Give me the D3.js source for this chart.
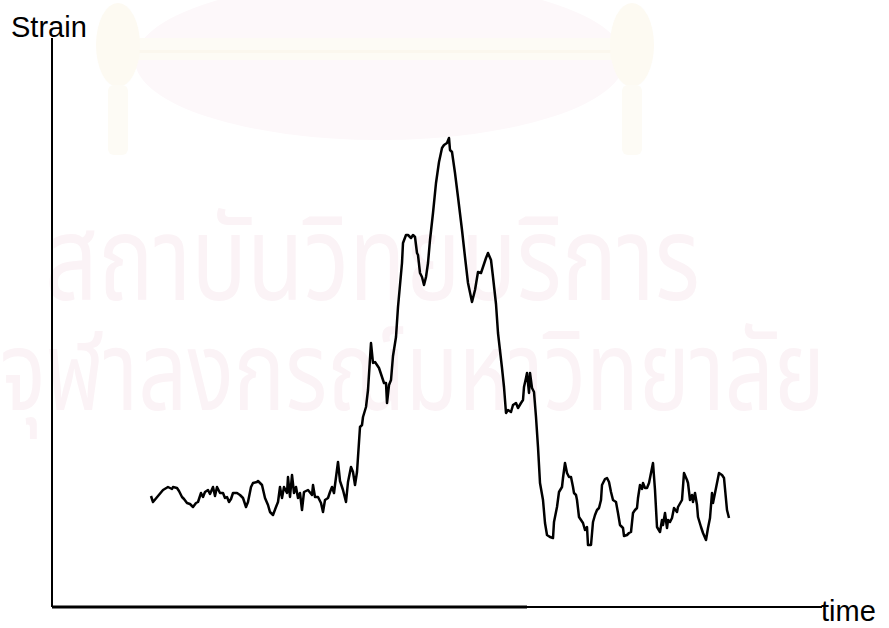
<!DOCTYPE html>
<html>
<head>
<meta charset="utf-8">
<script src="https://cdn.jsdelivr.net/npm/d3@7"></script>
<style>
  html, body { margin: 0; padding: 0; background: #ffffff; }
  svg { display: block; }
</style>
</head>
<body>
<div id="chart"></div>
<script>
// ---- data ----
const axisLabels = { y: "Strain", x: "time" };
const watermarkLines = ["สถาบันวิทยบริการ", "จุฬาลงกรณ์มหาวิทยาลัย"];

const timeDomain = [0, 77];
const strainDomain = [0, 569];

const time = [
  9.9,10.1,11.1,11.6,12.0,12.1,12.5,12.7,13.0,13.2,13.5,13.8,14.1,14.4,14.6,14.9,15.1,15.3,15.6,15.8,
  16.1,16.3,16.5,16.8,17.1,17.3,17.5,17.7,17.9,18.1,18.5,18.8,19.1,19.4,19.6,19.9,20.1,20.5,20.6,21.0,
  21.3,21.6,21.8,22.1,22.4,22.6,22.8,23.0,23.2,23.5,23.6,23.8,24.0,24.2,24.4,24.6,24.8,25.0,25.2,25.6,
  26.0,26.1,26.3,26.6,26.9,27.1,27.3,27.6,27.8,28.0,28.2,28.3,28.6,28.8,29.1,29.4,29.6,29.9,30.1,30.3,
  30.5,30.8,31.0,31.1,31.4,31.6,31.9,32.1,32.3,32.7,33.0,33.2,33.4,33.5,33.7,33.9,34.1,34.4,34.6,35.0,
  35.1,35.4,35.6,35.9,36.1,36.3,36.5,36.6,36.8,37.0,37.2,37.4,37.6,37.8,38.1,38.4,38.7,39.0,39.2,39.5,
  39.7,39.8,40.0,40.3,40.6,41.0,41.3,41.6,42.0,42.3,42.6,42.9,43.1,43.4,43.6,43.9,44.1,44.4,44.6,45.0,
  45.2,45.4,45.6,45.9,46.1,46.4,46.6,46.9,47.1,47.2,47.4,47.5,47.7,47.8,48.0,48.2,48.4,48.6,48.8,49.1,
  49.3,49.5,49.8,50.1,50.2,50.5,50.7,51.0,51.1,51.3,51.5,51.7,51.9,52.1,52.2,52.4,52.5,52.7,53.1,53.3,
  53.5,53.6,53.9,54.1,54.3,54.5,54.7,54.9,55.0,55.3,55.5,55.7,55.9,56.1,56.4,56.6,56.8,57.1,57.2,57.5,
  57.7,57.9,58.1,58.3,58.5,58.6,58.8,59.0,59.1,59.3,59.5,59.7,59.9,60.1,60.3,60.5,60.8,61.0,61.1,61.3,
  61.5,61.6,61.8,62.0,62.2,62.5,62.6,63.0,63.2,63.5,63.6,63.8,64.0,64.1,64.3,64.5,64.6,64.9,65.1,65.4,
  65.6,65.8,66.0,66.1,66.3,66.5,66.7,67.0,67.2,67.5,67.7
];

const strain = [
  111,105,117,120,118,120,119,116,110,108,104,103,100,104,105,114,110,115,117,113,
  120,111,120,114,114,109,110,105,108,114,114,112,109,100,105,120,124,125,126,122,
  109,102,95,92,100,105,120,109,120,114,130,110,132,114,120,109,114,97,115,117,
  112,122,110,110,104,95,107,109,115,120,114,122,145,126,117,105,125,140,135,122,
  135,180,182,190,200,217,264,244,245,239,230,224,224,204,222,227,251,270,300,344,
  364,372,372,369,372,370,354,352,334,330,322,330,344,367,394,424,445,459,462,464,
  469,457,455,434,410,377,350,324,305,317,335,334,340,349,354,347,330,303,274,239,
  220,194,197,195,202,204,199,204,207,220,229,234,214,234,219,215,190,160,124,107,
  84,72,70,69,85,100,115,120,129,144,134,130,130,120,114,112,107,90,84,77,
  80,62,62,85,92,97,99,107,122,128,129,125,115,107,105,94,82,79,71,72,
  74,75,94,97,99,109,122,118,124,119,119,124,134,144,117,80,75,87,82,94,
  79,87,85,89,99,95,100,107,134,127,124,107,112,105,114,102,90,80,74,67,
  79,89,114,104,114,124,134,132,129,97,89
];

// ---- layout ----
const W = 889, H = 628;
const svg = d3.select("#chart").append("svg")
  .attr("width", W).attr("height", H)
  .attr("viewBox", `0 0 ${W} ${H}`);

const x = d3.scaleLinear().domain(timeDomain).range([52, 822]);
const y = d3.scaleLinear().domain(strainDomain).range([607, 38]);

// ---- faint background watermark ----
const wm = svg.append("g").attr("class", "watermark");
wm.append("ellipse").attr("cx", 380).attr("cy", 60).attr("rx", 245).attr("ry", 80)
  .attr("fill", "#fdf8fa");
wm.append("rect").attr("x", 112).attr("y", 38).attr("width", 536).attr("height", 22)
  .attr("fill", "#fdfbf5");
wm.append("rect").attr("x", 125).attr("y", 50).attr("width", 510).attr("height", 3)
  .attr("fill", "#fbf7ee");
[118, 632].forEach(cx => {
  wm.append("ellipse").attr("cx", cx).attr("cy", 45).attr("rx", 22).attr("ry", 42)
    .attr("fill", "#fdfaf2");
  wm.append("rect").attr("x", cx - 10).attr("y", 85).attr("width", 20).attr("height", 70)
    .attr("rx", 6).attr("fill", "#fdfbf5");
});
wm.append("text").attr("x", 45).attr("y", 300)
  .attr("textLength", 655).attr("lengthAdjust", "spacingAndGlyphs")
  .attr("font-family", "'Noto Sans Thai', 'Loma', 'Garuda', 'Noto Sans', sans-serif")
  .attr("font-size", 118).attr("fill", "#fbf3f6")
  .text(watermarkLines[0]);
wm.append("text").attr("x", 0).attr("y", 410)
  .attr("textLength", 825).attr("lengthAdjust", "spacingAndGlyphs")
  .attr("font-family", "'Noto Sans Thai', 'Loma', 'Garuda', 'Noto Sans', sans-serif")
  .attr("font-size", 110).attr("fill", "#fbf3f6")
  .text(watermarkLines[1]);

// ---- axes ----
svg.append("line")
  .attr("x1", x(timeDomain[0])).attr("x2", x(timeDomain[0]))
  .attr("y1", y(strainDomain[0])).attr("y2", y(strainDomain[1]))
  .attr("stroke", "#000").attr("stroke-width", 2);
svg.append("line")
  .attr("x1", x(timeDomain[0])).attr("x2", x(timeDomain[1]))
  .attr("y1", y(strainDomain[0])).attr("y2", y(strainDomain[0]))
  .attr("stroke", "#000").attr("stroke-width", 2);
svg.append("line")
  .attr("x1", x(timeDomain[0])).attr("x2", x(47.5))
  .attr("y1", y(strainDomain[0])).attr("y2", y(strainDomain[0]))
  .attr("stroke", "#000").attr("stroke-width", 3);

svg.append("text").attr("x", 11).attr("y", 37)
  .attr("font-family", "'Liberation Sans', Arial, sans-serif")
  .attr("font-size", 29).attr("fill", "#000")
  .text(axisLabels.y);
svg.append("text").attr("x", 821).attr("y", 621)
  .attr("font-family", "'Liberation Sans', Arial, sans-serif")
  .attr("font-size", 29).attr("fill", "#000")
  .text(axisLabels.x);

// ---- data line ----
const pts = time.map((t, i) => [t, strain[i]]);
const line = d3.line().x(d => x(d[0])).y(d => y(d[1])).curve(d3.curveLinear);
svg.append("path").datum(pts)
  .attr("d", line)
  .attr("fill", "none")
  .attr("stroke", "#000")
  .attr("stroke-width", 2.5)
  .attr("stroke-linejoin", "round");
</script>
</body>
</html>
